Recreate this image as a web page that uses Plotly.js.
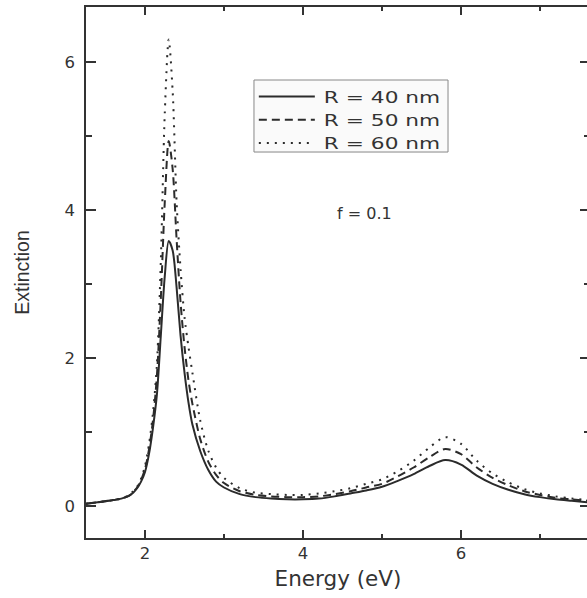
<!DOCTYPE html>
<html>
<head>
<meta charset="utf-8">
<script src="https://cdn.plot.ly/plotly-3.0.1.min.js"></script>
<style>
html,body{margin:0;padding:0;overflow:hidden;background:#fff;}
#chart{width:596px;height:598px;}
#chart .legendtext{transform-box:fill-box;transform-origin:0 50%;transform:scaleX(1.4);}
</style>
</head>
<body>
<div id="chart"></div>
<script>
// Energy grid (eV)
var energy = [1.25,1.4,1.6,1.7,1.8,1.85,1.9,1.95,2.0,2.05,2.1,2.15,2.2,2.25,2.3,2.35,2.4,2.45,2.5,2.55,2.6,2.7,2.8,2.9,3.0,3.2,3.4,3.6,3.8,4.0,4.2,4.4,4.6,4.8,5.0,5.2,5.4,5.6,5.8,6.0,6.2,6.4,6.6,6.8,7.0,7.2,7.4,7.62];
// Extinction, R = 40 nm
var extR40 = [0.03,0.05,0.08,0.1,0.14,0.18,0.24,0.33,0.46,0.7,1.05,1.5,2.3,3.1,3.58,3.45,2.95,2.3,1.8,1.4,1.1,0.74,0.49,0.33,0.25,0.16,0.12,0.10,0.09,0.09,0.10,0.13,0.17,0.21,0.26,0.34,0.43,0.54,0.62,0.56,0.41,0.30,0.22,0.16,0.12,0.09,0.07,0.05];
// Extinction, R = 50 nm
var extR50 = [0.03,0.05,0.08,0.1,0.14,0.19,0.25,0.35,0.5,0.76,1.15,1.75,2.8,4.1,4.93,4.55,3.6,2.75,2.15,1.7,1.38,0.9,0.6,0.42,0.31,0.2,0.15,0.13,0.12,0.12,0.13,0.16,0.2,0.25,0.3,0.4,0.52,0.66,0.77,0.7,0.52,0.38,0.28,0.2,0.15,0.11,0.09,0.07];
// Extinction, R = 60 nm
var extR60 = [0.03,0.05,0.08,0.1,0.15,0.2,0.26,0.37,0.54,0.83,1.25,1.9,3.3,5.3,6.3,5.6,4.1,3.2,2.55,2.15,1.8,1.15,0.75,0.52,0.38,0.24,0.18,0.16,0.15,0.15,0.17,0.2,0.24,0.3,0.36,0.47,0.61,0.79,0.93,0.84,0.61,0.44,0.32,0.23,0.17,0.13,0.1,0.08];
var seriesNames = ['R = 40 nm','R = 50 nm','R = 60 nm'];

var lineColor = '#2b2b2b';
var traces = [
  {x: energy, y: extR40, name: seriesNames[0], mode:'lines',
   line:{color:lineColor, width:2, shape:'spline', smoothing:0.8}},
  {x: energy, y: extR50, name: seriesNames[1], mode:'lines',
   line:{color:lineColor, width:2, dash:'8px,5px', shape:'spline', smoothing:0.8}},
  {x: energy, y: extR60, name: seriesNames[2], mode:'lines',
   line:{color:lineColor, width:2, dash:'2px,6px', shape:'spline', smoothing:0.8}}
];

var font = 'DejaVu Sans, Liberation Sans, Arial, sans-serif';
var axisCommon = {
  showline:true, linecolor:'#333', linewidth:1.6, mirror:'ticks',
  ticks:'inside', tickcolor:'#333', tickwidth:1.6,
  showgrid:false, zeroline:false,
  tickfont:{family:font, size:16.5, color:'#333'}
};

var layout = {
  width:596, height:598,
  margin:{l:86, r:6, t:7, b:60},
  paper_bgcolor:'#fff', plot_bgcolor:'#fff',
  showlegend:true,
  legend:{x:0.333, y:0.8625, xanchor:'left', yanchor:'top',
    bgcolor:'rgba(0,0,0,0)', borderwidth:0,
    font:{family:font, size:15.5, color:'#333'},
    itemwidth:60, tracegroupgap:0},
  shapes:[{type:'rect', xref:'paper', yref:'paper', x0:0.3333, x1:0.7183, y0:0.7269, y1:0.8625,
    fillcolor:'#fafafa', line:{color:'#888', width:1}, layer:'above'}],
  xaxis: Object.assign({}, axisCommon, {
    range:[1.253, 7.633], dtick:2, tick0:0, ticklen:8,
    minor:{dtick:1, tick0:1, ticklen:4, ticks:'inside', tickcolor:'#333', tickwidth:1.6},
    ticklabelstandoff:0,
    title:{text:'Energy (eV)', font:{family:font, size:21.5, color:'#333'}, standoff:8}
  }),
  yaxis: Object.assign({}, axisCommon, {
    range:[-0.432, 6.739], dtick:2, tick0:0, ticklen:10,
    minor:{dtick:1, tick0:1, ticklen:6, ticks:'inside', tickcolor:'#333', tickwidth:1.6},
    ticklabelstandoff:6,
    title:{text:'Extinction', font:{family:'Liberation Sans, Arial, sans-serif', size:19.5, color:'#333'}, standoff:30}
  }),
  annotations:[{xref:'paper', yref:'paper', x:0.553, y:0.612, showarrow:false,
    text:'f = 0.1', font:{family:font, size:16, color:'#333'}}]
};

Plotly.newPlot('chart', traces, layout, {displayModeBar:false, staticPlot:true}).then(function(){
  document.querySelectorAll('#chart .legend [clip-path]').forEach(function(el){
    el.removeAttribute('clip-path');
  });
  document.querySelectorAll('#chart .legendlines path').forEach(function(p){
    p.setAttribute('d','M5,0h56');
  });
});
</script>
</body>
</html>
